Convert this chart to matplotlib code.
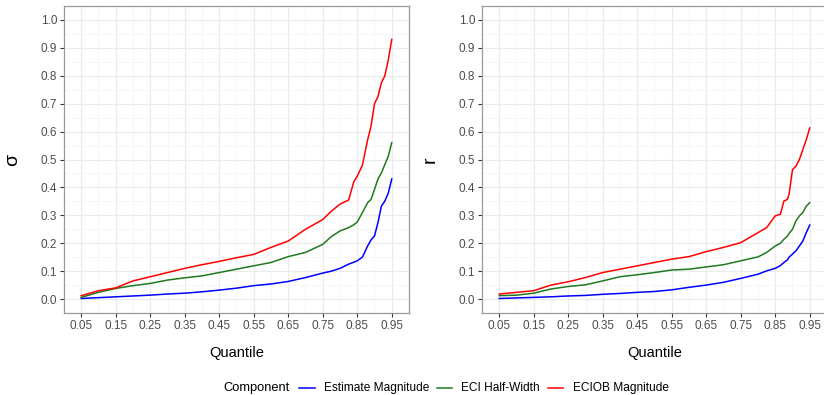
import numpy as np
import matplotlib
matplotlib.use("Agg")
import matplotlib.pyplot as plt
from matplotlib.lines import Line2D

plt.rcParams['font.family'] = ['Liberation Sans', 'DejaVu Sans']

# ---- data ----
q_left = [0.05, 0.10, 0.15, 0.20, 0.25, 0.30, 0.35, 0.40, 0.45, 0.50, 0.55, 0.60, 0.65,
          0.70, 0.75, 0.775, 0.80, 0.825, 0.84, 0.85, 0.865, 0.88, 0.89, 0.90, 0.91,
          0.92, 0.93, 0.94, 0.95]
sigma_red = [0.012, 0.03, 0.04, 0.065, 0.08, 0.095, 0.11, 0.123, 0.135, 0.148, 0.16, 0.185,
             0.208, 0.25, 0.285, 0.315, 0.34, 0.355, 0.42, 0.44, 0.48, 0.57, 0.62, 0.70,
             0.725, 0.775, 0.80, 0.857, 0.93]
sigma_green = [0.006, 0.024, 0.038, 0.048, 0.056, 0.068, 0.076, 0.083, 0.095, 0.107, 0.119,
               0.131, 0.152, 0.167, 0.196, 0.224, 0.244, 0.256, 0.266, 0.276, 0.31, 0.345,
               0.357, 0.393, 0.43, 0.452, 0.482, 0.512, 0.56]
sigma_blue = [0.002, 0.005, 0.008, 0.011, 0.014, 0.018, 0.021, 0.026, 0.032, 0.039, 0.048,
              0.054, 0.063, 0.077, 0.093, 0.10, 0.11, 0.125, 0.132, 0.137, 0.15, 0.19,
              0.212, 0.226, 0.274, 0.333, 0.351, 0.38, 0.43]

q_right = [0.05, 0.10, 0.15, 0.20, 0.25, 0.30, 0.35, 0.40, 0.45, 0.50, 0.55, 0.60, 0.65,
           0.70, 0.75, 0.80, 0.825, 0.85, 0.865, 0.875, 0.885, 0.89, 0.90, 0.91, 0.92,
           0.93, 0.94, 0.95]
r_red = [0.018, 0.024, 0.03, 0.05, 0.062, 0.077, 0.095, 0.107, 0.119, 0.131, 0.143, 0.152,
         0.17, 0.185, 0.202, 0.238, 0.256, 0.298, 0.304, 0.351, 0.357, 0.375, 0.464, 0.476,
         0.50, 0.536, 0.571, 0.613]
r_green = [0.012, 0.014, 0.021, 0.036, 0.045, 0.051, 0.065, 0.08, 0.087, 0.095, 0.104,
           0.107, 0.115, 0.123, 0.137, 0.151, 0.167, 0.19, 0.20, 0.214, 0.225, 0.235, 0.25,
           0.28, 0.298, 0.31, 0.333, 0.345]
r_blue = [0.002, 0.004, 0.006, 0.008, 0.011, 0.013, 0.017, 0.02, 0.024, 0.027, 0.033, 0.042,
          0.05, 0.06, 0.074, 0.089, 0.101, 0.11, 0.12, 0.131, 0.14, 0.15, 0.161, 0.173, 0.19,
          0.208, 0.238, 0.265]

components = ["Estimate Magnitude", "ECI Half-Width", "ECIOB Magnitude"]
colors = ["#0000FF", "#1F7A1F", "#FF0000"]
x_ticks = [0.05, 0.15, 0.25, 0.35, 0.45, 0.55, 0.65, 0.75, 0.85, 0.95]
y_ticks = [0.0, 0.1, 0.2, 0.3, 0.4, 0.5, 0.6, 0.7, 0.8, 0.9, 1.0]

W, H = 824, 395
fig = plt.figure(figsize=(W / 100, H / 100), dpi=100)
fig.patch.set_facecolor('white')

def px_axes(left, top, right, bottom):
    return fig.add_axes([left / W, 1 - bottom / H, (right - left) / W, (bottom - top) / H])

panels = [
    (px_axes(64, 6, 409, 313), q_left, [sigma_blue, sigma_green, sigma_red], "σ"),
    (px_axes(482, 6, 827, 313), q_right, [r_blue, r_green, r_red], "r"),
]

for ax, q, series, ylab in panels:
    ax.set_xlim(0.005, 0.995)
    ax.set_ylim(-0.05, 1.05)
    ax.set_xticks(x_ticks)
    ax.set_xticklabels([f"{t:.2f}" for t in x_ticks])
    ax.set_yticks(y_ticks)
    ax.set_yticklabels([f"{t:.1f}" for t in y_ticks])
    ax.set_xticks(np.arange(0.0, 1.0001, 0.1), minor=True)
    ax.set_yticks(np.arange(-0.05, 1.0501, 0.1), minor=True)
    ax.grid(which='major', color='#EBEBEB', lw=0.9)
    ax.grid(which='minor', color='#F5F5F5', lw=0.6)
    ax.set_axisbelow(True)
    ax.tick_params(which='minor', length=0)
    ax.tick_params(which='major', length=3, width=0.8, color='#333333',
                   labelcolor='#4D4D4D', labelsize=8.5, pad=2)
    for s in ax.spines.values():
        s.set_color('#999999')
        s.set_linewidth(0.9)
    for ys, c in zip(series, colors):
        ax.plot(q, ys, color=c, lw=1.1, solid_joinstyle='miter')
    ax.set_xlabel("Quantile", fontsize=10.5, labelpad=10)
    ax.set_ylabel(ylab, fontsize=14, labelpad=14, rotation=90)

# legend drawn manually at bottom
ly = 1 - 388 / H
fig.text(223 / W, ly, "Component", fontsize=9.3, va='center', ha='left')
segs = [(299, 315, 324), (437, 452, 461), (548, 563, 573)]
for (x0, x1, xt), lab, c in zip(segs, components, colors):
    fig.add_artist(Line2D([x0 / W, x1 / W], [ly, ly], color=c, lw=1.1,
                          transform=fig.transFigure))
    fig.text(xt / W, ly, lab, fontsize=8.6, va='center', ha='left')

fig.savefig("out.png", dpi=100)
